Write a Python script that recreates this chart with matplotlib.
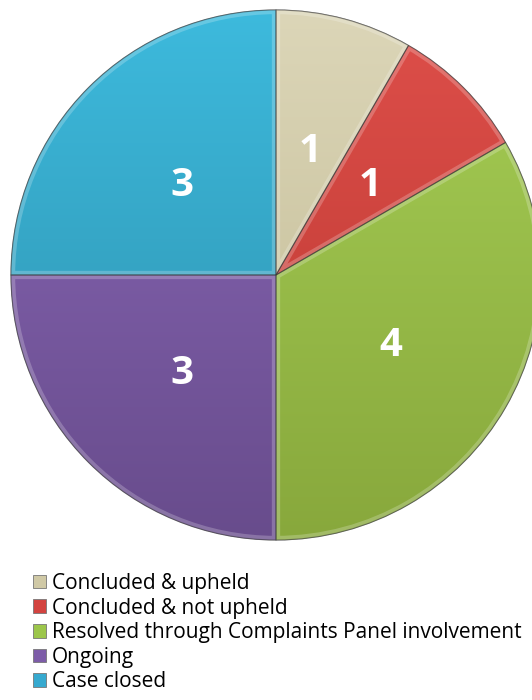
import matplotlib
matplotlib.use("Agg")
import matplotlib.pyplot as plt
import numpy as np
from matplotlib.colors import LinearSegmentedColormap
from matplotlib.patches import Patch, Wedge

categories = ["Concluded & upheld", "Concluded & not upheld",
              "Resolved through Complaints Panel involvement", "Ongoing", "Case closed"]
values = [1, 1, 4, 3, 3]
colors = ["#D0C9A6", "#D3433F", "#9CC64A", "#7D5CA8", "#36A9CF"]
top_colors = ["#DCD6B8", "#DE4F4A", "#A6CE55", "#8A68B8", "#3DBADD"]
bot_colors = ["#BFB890", "#B8362F", "#88A83C", "#684C8C", "#2D8EAA"]

W, H = 532, 700
fig = plt.figure(figsize=(W / 100, H / 100), dpi=100)
cx, cy, R = 276, 275, 265
ax = fig.add_axes([(cx - R) / W, (H - cy - R) / H, 2 * R / W, 2 * R / H])
ax.set_xlim(-1, 1)
ax.set_ylim(-1, 1)
ax.set_aspect("equal")
ax.axis("off")

wedges, texts = ax.pie(values, colors=colors, startangle=90, counterclock=False,
                       radius=1, labels=[str(v) for v in values], labeldistance=0.5,
                       wedgeprops=dict(edgecolor="#44444490", linewidth=0.8),
                       textprops=dict(color="white", fontsize=29, fontweight="bold",
                                      family="Open Sans", ha="center",
                                      va="center_baseline"))
for w in wedges:
    w.set_clip_on(False)

grad = np.linspace(0, 1, 256).reshape(-1, 1)
for w, tc, bc in zip(wedges, top_colors, bot_colors):
    cmap = LinearSegmentedColormap.from_list("g", [tc, bc])
    im = ax.imshow(grad, extent=(-1, 1, -1, 1), origin="upper", cmap=cmap,
                   aspect="auto", zorder=w.get_zorder() + 0.1, interpolation="bilinear")
    im.set_clip_path(w)
    im.set_clip_on(True)
    # subtle bevel highlight along inner edges
    bev = Wedge(w.center, w.r, w.theta1, w.theta2, facecolor="none",
                edgecolor=(1, 1, 1, 0.22), linewidth=6, zorder=w.get_zorder() + 0.2)
    ax.add_patch(bev)
    bev.set_clip_path(w)
    edge = Wedge(w.center, w.r, w.theta1, w.theta2, facecolor="none",
                 edgecolor=(0.2, 0.2, 0.2, 0.5), linewidth=0.8, zorder=w.get_zorder() + 0.3)
    ax.add_patch(edge)
    edge.set_clip_on(False)
for t in texts:
    t.set_zorder(10)
ax.set_xlim(-1, 1)
ax.set_ylim(-1, 1)

handles = [Patch(facecolor=c, edgecolor="#777777", linewidth=0.6) for c in colors]
leg = fig.legend(handles, categories, loc="upper left",
                 bbox_to_anchor=(33 / W, 1 - 573 / H), frameon=False,
                 prop=dict(family="Open Sans", size=15),
                 handlelength=0.62, handleheight=0.62, handletextpad=0.3,
                 labelspacing=0.17, borderaxespad=0, borderpad=0)
fig.savefig("out.png", dpi=100)
